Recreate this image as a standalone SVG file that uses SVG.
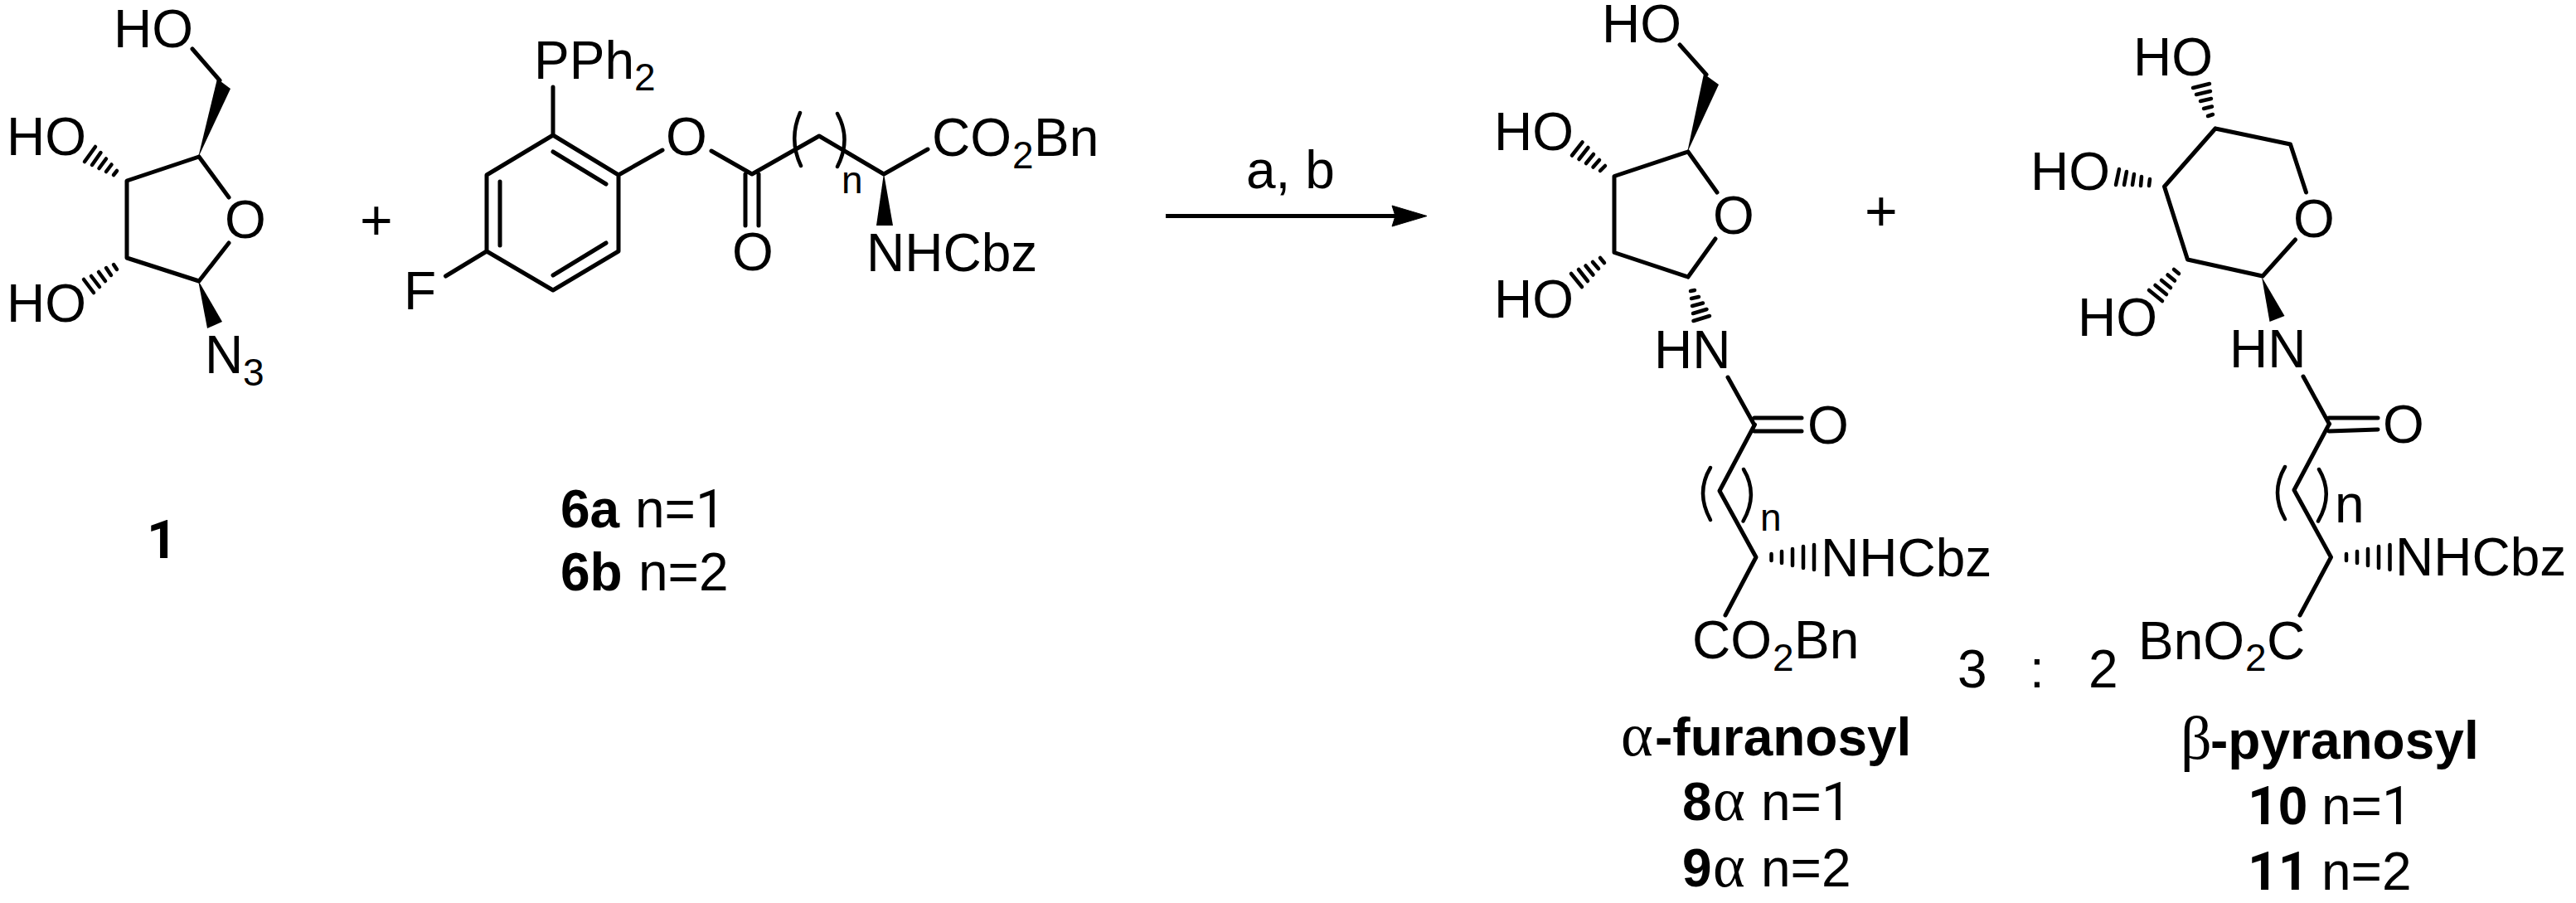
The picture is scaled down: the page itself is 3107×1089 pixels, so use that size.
<svg xmlns="http://www.w3.org/2000/svg" width="3107" height="1089" viewBox="0 0 3107 1089">
<style>
text{font-family:"Liberation Sans",Arial,sans-serif;font-size:64px;fill:#000}
.s{font-size:46px}
.b{font-weight:700}
.r{font-family:Roboto,"Liberation Sans",sans-serif}
.g{font-family:"Liberation Serif","Times New Roman",serif;font-size:74px}
.bond,.hash,.arc{fill:none;stroke:#000;stroke-width:5;stroke-linecap:round;stroke-linejoin:round}
.hash{stroke-width:4.5}
.arc{stroke-width:4.5}
.wedge{fill:#000;stroke:none}
</style>
<defs>
<marker id="head" markerUnits="userSpaceOnUse" markerWidth="44" markerHeight="28" viewBox="0 0 44 28" refX="12" refY="14" orient="auto">
<path d="M1 1.5 L43 14 L1 26.5 L5 14 Z" fill="#000" stroke="#000" stroke-width="1" stroke-linejoin="round"/>
</marker>
</defs>
<rect width="3107" height="1089" fill="#fff"/>

<g id="mol-1">
<path class="bond" d="M232 59L265 97M240 189L153 218V311L240 339M240 189L276 238M240 339L276 293"/>
<polygon class="wedge" points="239,190 262,95 278,107"/>
<polygon class="wedge" points="239,338 250,396 268,388"/>
<path class="hash" d="M102 195L115 177M111 199L121.500 184M119.500 203L128 191.500M128 207L134.500 198.500M137 211L141 206"/>
<path class="hash" d="M101 337L113 353M110 333L120 346M119 328L127 339M128 323L134 332M137 319L141 325"/>
<text x="137" y="57">HO</text>
<text x="8" y="187">HO</text>
<text x="8" y="388">HO</text>
<text x="271" y="287">O</text>
<text x="247" y="450">N<tspan class="s" x="293" y="465">3</tspan></text>
<text class="b r" x="177" y="673">1</text>
</g>

<text id="plus-1" x="434" y="289" style="font-size:68px">+</text>

<g id="mol-6">
<path class="bond" d="M667 105V163L746 211V303L667 350L587 303V211L667 163M667 183L731 222M603 219V296M667 332L731 293M746 211L799 181M858 182L907 210M899 210V272M915 210V272M907 210L988 164L1066 210L1119 180M587 303L537.500 333"/>
<path class="arc" d="M965 136Q951 168 966 200M1010 137Q1027 168 1010 201"/>
<polygon class="wedge" points="1066,209 1057,272 1077,272"/>
<text x="644" y="95">PPh<tspan class="s" x="765" y="109">2</tspan></text>
<text x="803" y="187">O</text>
<text x="883" y="326">O</text>
<text x="487" y="373">F</text>
<text class="s" x="1015" y="233">n</text>
<text x="1124" y="188">CO<tspan class="s" x="1221" y="203">2</tspan><tspan x="1247" y="188">Bn</tspan></text>
<text x="1045" y="327">NHCbz</text>
<text x="676" y="636"><tspan class="b">6a</tspan><tspan x="766">n=</tspan><tspan class="r">1</tspan></text>
<text x="676" y="712"><tspan class="b">6b</tspan><tspan x="770">n=2</tspan></text>
</g>

<g id="connectors">
<line x1="1406" y1="260.500" x2="1690" y2="260.500" stroke="#000" stroke-width="5" marker-end="url(#head)"/>
</g>
<text id="conditions" x="1503" y="227">a, b</text>

<g id="mol-8">
<path class="bond" d="M2026 54L2058 90M2036 183L1947 212.500V304.500L2036 334M2036 183L2071 232M2036 334L2069 288M2084 455L2116 512.500M2116 504H2173M2116 520H2173M2116.500 512L2074 592L2118 672L2081 742"/>
<path class="arc" d="M2063 564Q2045 594 2063 627M2103 566Q2121 596 2102.500 628.500"/>
<polygon class="wedge" points="2035,184 2055,89 2073,102"/>
<path class="hash" d="M1896 187.500L1908.600 171.400M1904.500 192L1915.500 178M1913 197L1922 186M1921.500 201.500L1929 193M1930 206L1936 200"/>
<path class="hash" d="M1895 330L1908 346M1904 325L1915 339M1912.500 320.500L1921.500 331.500M1921 316L1928 324M1930 311L1935 317"/>
<path class="hash" d="M2042.500 387L2062 381M2042 378L2058.500 373M2041 369L2054 365.500M2040 360L2049 358M2039 351L2044 350"/>
<path class="hash" d="M2136.500 668V676M2149 665V679M2162 662V682M2175 659V685M2188 657V687" />
<text x="1932" y="51">HO</text>
<text x="1802" y="181">HO</text>
<text x="1802" y="383">HO</text>
<text x="2066" y="282">O</text>
<text x="1995" y="444">HN</text>
<text x="2180" y="535">O</text>
<text class="s" x="2123" y="640">n</text>
<text x="2196" y="695">NHCbz</text>
<text x="2041" y="794">CO<tspan class="s" x="2138" y="809">2</tspan><tspan x="2164" y="794">Bn</tspan></text>
<text y="911"><tspan class="g" x="1955">α</tspan><tspan class="b" x="1996">-furanosyl</tspan></text>
<text y="989"><tspan class="b" x="2029">8</tspan><tspan class="g" x="2066">α</tspan><tspan x="2124">n=</tspan><tspan class="r">1</tspan></text>
<text y="1069"><tspan class="b" x="2029">9</tspan><tspan class="g" x="2066">α</tspan><tspan x="2124">n=2</tspan></text>
</g>

<text id="plus-2" x="2249" y="278" style="font-size:68px">+</text>
<g id="ratio">
<text x="2361" y="829">3</text>
<text x="2448" y="829">:</text>
<text x="2519" y="829">2</text>
</g>

<g id="mol-10">
<path class="bond" d="M2672 155L2762.500 174L2781.500 232M2672 155L2610.500 225L2638.500 313L2729 333L2768.500 289M2778 454L2809.500 511.500M2809 504H2868M2809 520L2868 518M2809.500 511L2767 591L2811.500 672L2774 742"/>
<path class="arc" d="M2756 563Q2738 594 2756 626M2797 566Q2815 596 2796 628.500"/>
<polygon class="wedge" points="2728,334 2737.500,388 2755.500,381"/>
<path class="hash" d="M2645 106L2665 101M2649 114L2666 110M2654 122L2667 119M2658 131L2668 128.500M2663 140L2669 138"/>
<path class="hash" d="M2556 204L2552 223M2565 207L2562 223M2574 210L2572 223M2583 213L2582 224M2593 216L2592 224"/>
<path class="hash" d="M2592 350L2608 363M2599.500 344L2613 355M2607 338L2618 347M2614.500 331.500L2623 338.500M2622 325L2628 330"/>
<path class="hash" d="M2830 668V676M2843 665V679M2856 662V682M2869 659V685M2882.500 657V687"/>
<text x="2573" y="91">HO</text>
<text x="2449" y="229">HO</text>
<text x="2506" y="405">HO</text>
<text x="2766" y="286">O</text>
<text x="2689" y="443">HN</text>
<text x="2874" y="534">O</text>
<text x="2816" y="630">n</text>
<text x="2889" y="694">NHCbz</text>
<text x="2579" y="795">BnO<tspan class="s" x="2708" y="809">2</tspan><tspan x="2734" y="795">C</tspan></text>
<text y="915"><tspan class="g" x="2630">β</tspan><tspan class="b" x="2666">-pyranosyl</tspan></text>
<text y="994"><tspan class="b r" x="2711">1</tspan><tspan class="b">0</tspan><tspan x="2800">n=</tspan><tspan class="r">1</tspan></text>
<text y="1073"><tspan class="b r" x="2711">11</tspan><tspan x="2800">n=2</tspan></text>
</g>
</svg>
